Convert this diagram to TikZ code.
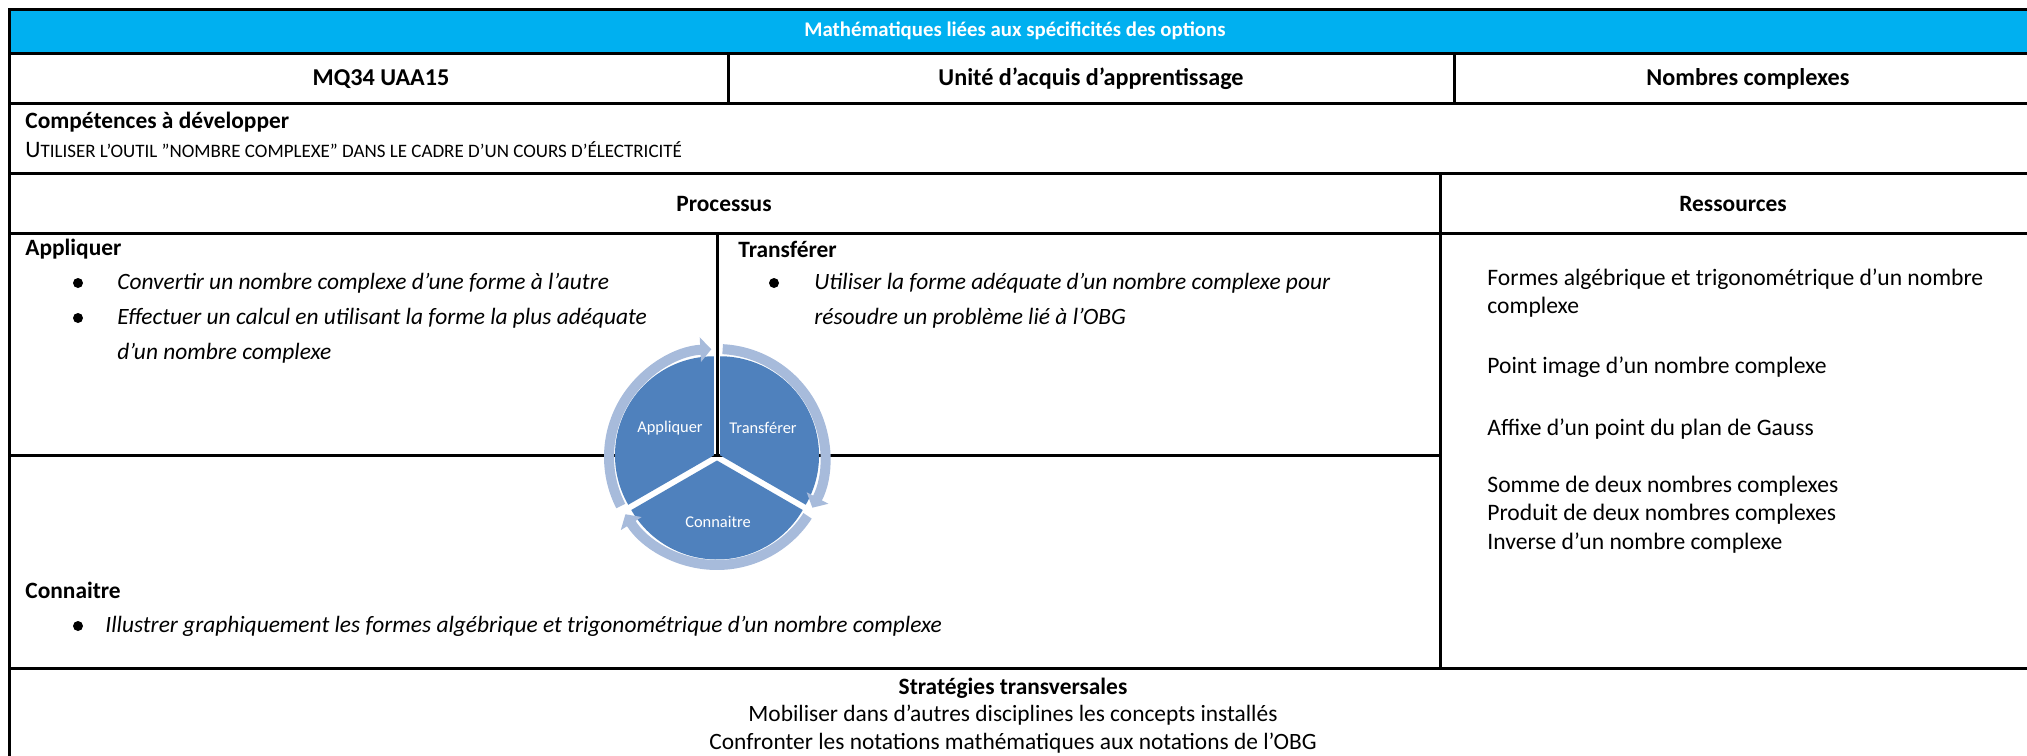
\documentclass[tikz,border=0pt]{standalone}
\usepackage{fontspec}
\setmainfont{Carlito}
\usetikzlibrary{arrows.meta}
\definecolor{titleblue}{RGB}{0,176,240}
\definecolor{pieblue}{RGB}{79,129,189}
\definecolor{ringblue}{RGB}{167,187,219}
\newcommand{\fsc}[1]{{\fontsize{9.5}{11}\selectfont #1}}
\begin{document}
\begin{tikzpicture}[x=0.5pt,y=-0.5pt,
  grid/.style={line width=1.5pt, draw=black},
  body/.style={font=\fontsize{11.8}{14}\selectfont, inner sep=0pt, anchor=west},
  ital/.style={font=\fontsize{11.7}{14}\selectfont\itshape, inner sep=0pt, anchor=west},
  head/.style={font=\fontsize{11.7}{14}\selectfont\bfseries, inner sep=0pt},
  cbody/.style={font=\fontsize{11.7}{14}\selectfont, inner sep=0pt},
  bul/.style={circle, fill=black, inner sep=0pt, minimum size=5pt},
  ring/.style={draw=ringblue, line width=5pt, -{Triangle[width=12pt,length=5.5pt]}},
  sect/.style={font=\fontsize{8.2}{10}\selectfont, text=white, inner sep=0pt}]
\useasboundingbox (0,0) rectangle (2027,755);
\begin{scope}
\clip (0,0) rectangle (2027,755);
\fill[titleblue] (9,9) rectangle (2040,53);
\draw[grid] (2040,9) -- (9,9) -- (9,770);
\foreach \yy in {53,103,173,233,668} \draw[grid] (9,\yy) -- (2040,\yy);
\draw[grid] (728,53) -- (728,103);
\draw[grid] (1454,53) -- (1454,103);
\draw[grid] (1440,173) -- (1440,668);
\draw[grid] (717,233) -- (717,455);
\draw[grid] (9,455) -- (1440,455);
\end{scope}

% title and header rows
\node[head, text=white, font=\fontsize{10.4}{12}\selectfont\bfseries] (title) at (1015,31) {Mathématiques liées aux spécificités des options};
\node[head, font=\fontsize{12.1}{14}\selectfont\bfseries] (code) at (381,79) {MQ34 UAA15};
\node[head, font=\fontsize{12.1}{14}\selectfont\bfseries] (uaa) at (1091,79) {Unité d’acquis d’apprentissage};
\node[head, font=\fontsize{12.1}{14}\selectfont\bfseries] (theme) at (1748,79) {Nombres complexes};
\node[head, anchor=west] (comp) at (25,122) {Compétences à développer};
\node[body] (compt) at (25,150) {U\fsc{TILISER L’OUTIL "NOMBRE COMPLEXE" DANS LE CADRE D’UN COURS D’ÉLECTRICITÉ}};
\node[head] (proc) at (724,204) {Processus};
\node[head] (res) at (1733,204) {Ressources};

% Appliquer
\node[head, anchor=west] (app) at (25,249) {Appliquer};
\node[bul] (b1) at (78,283) {};
\node[ital] (a1) at (117,283) {Convertir un nombre complexe d’une forme à l’autre};
\node[bul] (b2) at (78,318) {};
\node[ital] (a2) at (117,318) {Effectuer un calcul en utilisant la forme la plus adéquate};
\node[ital] (a3) at (117,353) {d’un nombre complexe};

% Transferer
\node[head, anchor=west] (tra) at (738,249) {Transférer};
\node[bul] (b3) at (774,283) {};
\node[ital] (t1) at (814,283) {Utiliser la forme adéquate d’un nombre complexe pour};
\node[ital] (t2) at (814,318) {résoudre un problème lié à l’OBG};

% Connaitre
\node[head, anchor=west] (con) at (25,590) {Connaitre};
\node[bul] (b4) at (78,626) {};
\node[ital] (c1) at (105,626) {Illustrer graphiquement les formes algébrique et trigonométrique d’un nombre complexe};

% Ressources
\node[body] (r1) at (1487,279) {Formes algébrique et trigonométrique d’un nombre};
\node[body] (r2) at (1487,307) {complexe};
\node[body] (r3) at (1487,367) {Point image d’un nombre complexe};
\node[body] (r4) at (1487,429) {Affixe d’un point du plan de Gauss};
\node[body] (r5) at (1487,486) {Somme de deux nombres complexes};
\node[body] (r6) at (1487,514) {Produit de deux nombres complexes};
\node[body] (r7) at (1487,543) {Inverse d’un nombre complexe};

% Strategies
\node[head] (strat) at (1013,688) {Stratégies transversales};
\node[cbody] (s1) at (1013,715) {Mobiliser dans d’autres disciplines les concepts installés};
\node[cbody] (s2) at (1013,743) {Confronter les notations mathématiques aux notations de l’OBG};

% cycle diagram
\begin{scope}[shift={(717,457)}, yscale=-1]
\fill[pieblue, shift={(150:3.5)}] (0,0) -- (90:99) arc[start angle=90,end angle=210,radius=99] -- cycle;
\fill[pieblue, shift={(30:3.5)}] (0,0) -- (-30:99) arc[start angle=-30,end angle=90,radius=99] -- cycle;
\fill[pieblue, shift={(270:3.5)}] (0,0) -- (210:99) arc[start angle=210,end angle=330,radius=99] -- cycle;
\draw[ring] (207:108) arc[start angle=207,end angle=93,radius=108];
\draw[ring] (87:108) arc[start angle=87,end angle=-28,radius=108];
\draw[ring] (-33:108) arc[start angle=-33,end angle=-148,radius=108];
\end{scope}
\node[sect] (sa) at (670,428) {Appliquer};
\node[sect] (st) at (763,428) {Transférer};
\node[sect] (sc) at (718,522) {Connaitre};
\end{tikzpicture}
\end{document}
